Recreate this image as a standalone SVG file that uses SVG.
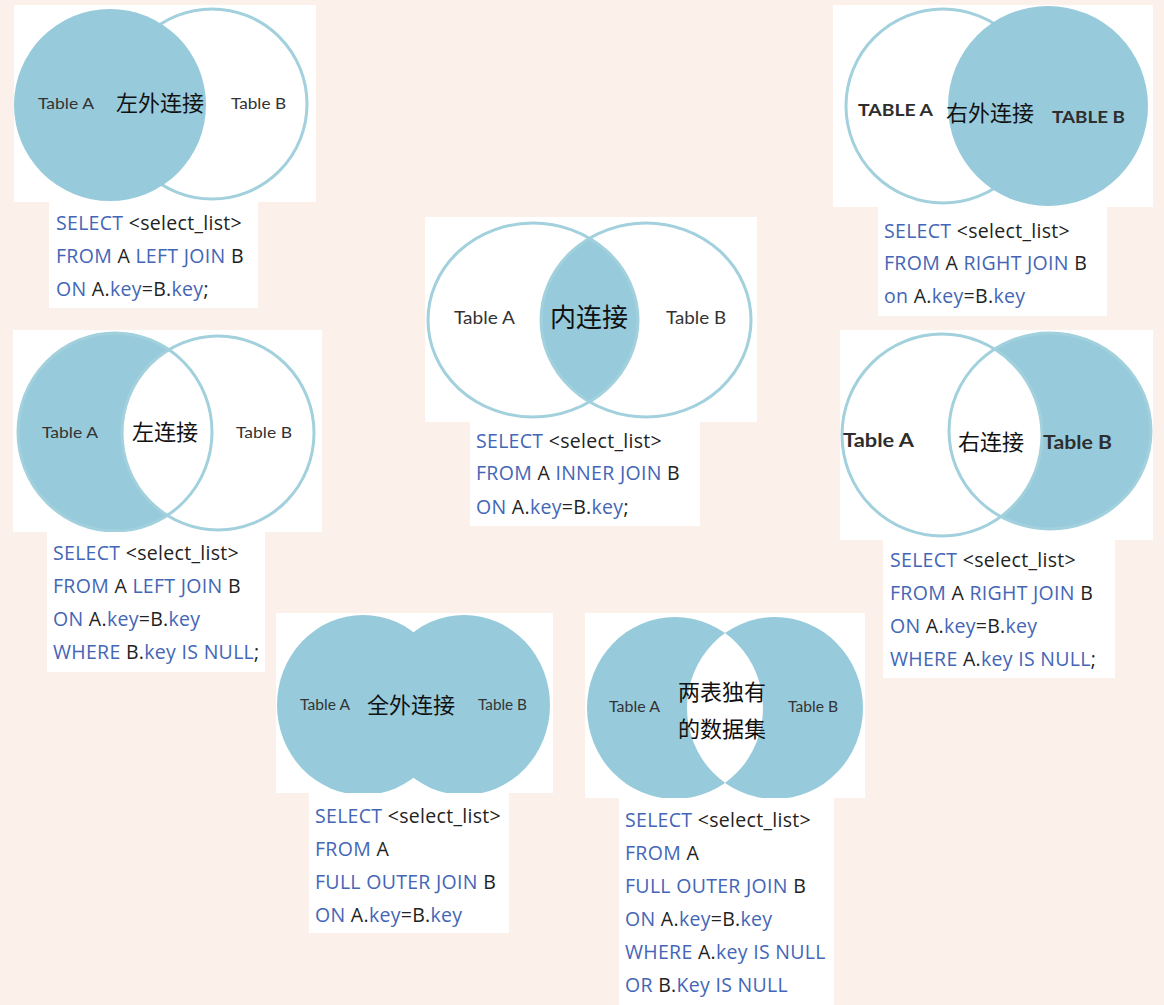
<svg xmlns="http://www.w3.org/2000/svg" width="1164" height="1005" viewBox="0 0 1164 1005">
<style>
.bg{fill:#fcf0ea}
.card{fill:#ffffff}
.fill{fill:#97cbdc}
.white{fill:#ffffff}
.ring{fill:none;stroke:#a2d1dd;stroke-width:3}
.lbl{font-family:Lato,"Liberation Sans",sans-serif;font-size:16px;fill:#333333}
.lblb{font-family:Lato,"Liberation Sans",sans-serif;font-size:17px;font-weight:bold;fill:#2e2e2e}
.cn{font-family:"Noto Sans CJK SC",sans-serif;font-size:22px;fill:#111111}
.sql{font-family:"Open Sans","Noto Sans",sans-serif;font-size:19.5px;letter-spacing:0.3px;fill:#222222}
.k{fill:#4466b6}
</style>
<defs>
<clipPath id="clipA3"><ellipse cx="533" cy="320" rx="105" ry="97"/></clipPath>
<clipPath id="clipB7"><ellipse cx="775" cy="708" rx="88" ry="91"/></clipPath>
</defs>
<rect class="bg" x="0" y="0" width="1164" height="1005"/>

<g id="left-outer-join">
<rect class="card" x="14" y="5" width="302" height="197"/>
<circle class="ring" cx="212" cy="104" r="95"/>
<circle class="fill" cx="110" cy="105" r="96"/>
<text class="lbl" x="38" y="109" textLength="56" lengthAdjust="spacingAndGlyphs">Table A</text>
<text class="cn" x="116" y="111">左外连接</text>
<text class="lbl" x="231" y="109" textLength="55" lengthAdjust="spacingAndGlyphs">Table B</text>
<rect class="card" x="49" y="202" width="209" height="106"/>
<text class="sql" x="56" y="230"><tspan class="k">SELECT</tspan> &lt;select_list&gt;</text>
<text class="sql" x="56" y="263"><tspan class="k">FROM</tspan> A <tspan class="k">LEFT JOIN</tspan> B</text>
<text class="sql" x="56" y="296"><tspan class="k">ON</tspan> A.<tspan class="k">key</tspan>=B.<tspan class="k">key</tspan>;</text>
</g>

<g id="right-outer-join">
<rect class="card" x="833" y="5" width="320" height="202"/>
<circle class="ring" cx="943" cy="106" r="97"/>
<circle class="fill" cx="1048" cy="106" r="100"/>
<text class="lblb" x="858" y="116" textLength="75" lengthAdjust="spacingAndGlyphs">TABLE A</text>
<text class="cn" x="946" y="121">右外连接</text>
<text class="lblb" x="1052" y="123" textLength="73" lengthAdjust="spacingAndGlyphs">TABLE B</text>
<rect class="card" x="878" y="207" width="229" height="109"/>
<text class="sql" x="884" y="238"><tspan class="k">SELECT</tspan> &lt;select_list&gt;</text>
<text class="sql" x="884" y="270"><tspan class="k">FROM</tspan> A <tspan class="k">RIGHT JOIN</tspan> B</text>
<text class="sql" x="884" y="303"><tspan class="k">on</tspan> A.<tspan class="k">key</tspan>=B.<tspan class="k">key</tspan></text>
</g>

<g id="inner-join">
<rect class="card" x="425" y="217" width="332" height="205"/>
<ellipse class="fill" cx="646" cy="320" rx="105" ry="97" clip-path="url(#clipA3)"/>
<ellipse class="ring" cx="533" cy="320" rx="105" ry="97"/>
<ellipse class="ring" cx="646" cy="320" rx="105" ry="97"/>
<text class="lbl" x="454" y="324" style="font-size:17.5px" textLength="61" lengthAdjust="spacingAndGlyphs">Table A</text>
<text class="cn" x="550" y="327" style="font-size:26px">内连接</text>
<text class="lbl" x="666" y="324" style="font-size:17.5px" textLength="60" lengthAdjust="spacingAndGlyphs">Table B</text>
<rect class="card" x="470" y="422" width="230" height="104"/>
<text class="sql" x="476" y="448"><tspan class="k">SELECT</tspan> &lt;select_list&gt;</text>
<text class="sql" x="476" y="480"><tspan class="k">FROM</tspan> A <tspan class="k">INNER JOIN</tspan> B</text>
<text class="sql" x="476" y="514"><tspan class="k">ON</tspan> A.<tspan class="k">key</tspan>=B.<tspan class="k">key</tspan>;</text>
</g>

<g id="left-join-exclusive">
<rect class="card" x="13" y="330" width="309" height="202"/>
<ellipse class="fill" cx="115" cy="432" rx="97" ry="99"/>
<ellipse class="white" cx="218" cy="433" rx="96" ry="97"/>
<ellipse class="ring" cx="218" cy="433" rx="96" ry="97"/>
<ellipse class="ring" cx="115" cy="432" rx="97" ry="99"/>
<text class="lbl" x="42" y="438" textLength="56" lengthAdjust="spacingAndGlyphs">Table A</text>
<text class="cn" x="132" y="440">左连接</text>
<text class="lbl" x="236" y="438" textLength="56" lengthAdjust="spacingAndGlyphs">Table B</text>
<rect class="card" x="47" y="532" width="218" height="140"/>
<text class="sql" x="53" y="560"><tspan class="k">SELECT</tspan> &lt;select_list&gt;</text>
<text class="sql" x="53" y="593"><tspan class="k">FROM</tspan> A <tspan class="k">LEFT JOIN</tspan> B</text>
<text class="sql" x="53" y="626"><tspan class="k">ON</tspan> A.<tspan class="k">key</tspan>=B.<tspan class="k">key</tspan></text>
<text class="sql" x="53" y="659"><tspan class="k">WHERE</tspan> B.<tspan class="k">key</tspan> <tspan class="k">IS NULL</tspan>;</text>
</g>

<g id="right-join-exclusive">
<rect class="card" x="840" y="330" width="313" height="210"/>
<ellipse class="fill" cx="1050" cy="431" rx="101" ry="98"/>
<ellipse class="white" cx="942" cy="435" rx="100" ry="101"/>
<ellipse class="ring" cx="942" cy="435" rx="100" ry="101"/>
<ellipse class="ring" cx="1050" cy="431" rx="101" ry="98"/>
<text class="lblb" x="843" y="447" style="font-size:19.5px" textLength="71" lengthAdjust="spacingAndGlyphs">Table A</text>
<text class="cn" x="958" y="450">右连接</text>
<text class="lblb" x="1043" y="449" style="font-size:19.5px" textLength="69" lengthAdjust="spacingAndGlyphs">Table B</text>
<rect class="card" x="883" y="540" width="232" height="138"/>
<text class="sql" x="890" y="567"><tspan class="k">SELECT</tspan> &lt;select_list&gt;</text>
<text class="sql" x="890" y="600"><tspan class="k">FROM</tspan> A <tspan class="k">RIGHT JOIN</tspan> B</text>
<text class="sql" x="890" y="633"><tspan class="k">ON</tspan> A.<tspan class="k">key</tspan>=B.<tspan class="k">key</tspan></text>
<text class="sql" x="890" y="666"><tspan class="k">WHERE</tspan> A.<tspan class="k">key</tspan> <tspan class="k">IS NULL</tspan>;</text>
</g>

<g id="full-outer-join">
<rect class="card" x="276" y="613" width="277" height="180"/>
<ellipse class="fill" cx="363" cy="705" rx="86" ry="90"/>
<ellipse class="fill" cx="464" cy="705" rx="86" ry="90"/>
<text class="lbl" x="300" y="710" style="font-size:14.5px" textLength="50" lengthAdjust="spacingAndGlyphs">Table A</text>
<text class="cn" x="367" y="713">全外连接</text>
<text class="lbl" x="478" y="710" style="font-size:14.5px" textLength="49" lengthAdjust="spacingAndGlyphs">Table B</text>
<rect class="card" x="309" y="793" width="200" height="140"/>
<text class="sql" x="315" y="823"><tspan class="k">SELECT</tspan> &lt;select_list&gt;</text>
<text class="sql" x="315" y="856"><tspan class="k">FROM</tspan> A</text>
<text class="sql" x="315" y="889"><tspan class="k">FULL OUTER JOIN</tspan> B</text>
<text class="sql" x="315" y="922"><tspan class="k">ON</tspan> A.<tspan class="k">key</tspan>=B.<tspan class="k">key</tspan></text>
</g>

<g id="full-outer-exclusive">
<rect class="card" x="585" y="613" width="280" height="185"/>
<ellipse class="fill" cx="675" cy="708" rx="88" ry="91"/>
<ellipse class="fill" cx="775" cy="708" rx="88" ry="91"/>
<ellipse class="white" cx="675" cy="708" rx="88" ry="91" clip-path="url(#clipB7)"/>
<text class="lbl" x="609" y="712" style="font-size:14.5px" textLength="51" lengthAdjust="spacingAndGlyphs">Table A</text>
<text class="cn" x="678" y="700">两表独有</text>
<text class="cn" x="678" y="737">的数据集</text>
<text class="lbl" x="788" y="712" style="font-size:14.5px" textLength="50" lengthAdjust="spacingAndGlyphs">Table B</text>
<rect class="card" x="619" y="798" width="215" height="207"/>
<text class="sql" x="625" y="827"><tspan class="k">SELECT</tspan> &lt;select_list&gt;</text>
<text class="sql" x="625" y="860"><tspan class="k">FROM</tspan> A</text>
<text class="sql" x="625" y="893"><tspan class="k">FULL OUTER JOIN</tspan> B</text>
<text class="sql" x="625" y="926"><tspan class="k">ON</tspan> A.<tspan class="k">key</tspan>=B.<tspan class="k">key</tspan></text>
<text class="sql" x="625" y="959"><tspan class="k">WHERE</tspan> A.<tspan class="k">key</tspan> <tspan class="k">IS NULL</tspan></text>
<text class="sql" x="625" y="992"><tspan class="k">OR</tspan> B.<tspan class="k">Key</tspan> <tspan class="k">IS NULL</tspan></text>
</g>

<g id="connectors"></g>
</svg>
